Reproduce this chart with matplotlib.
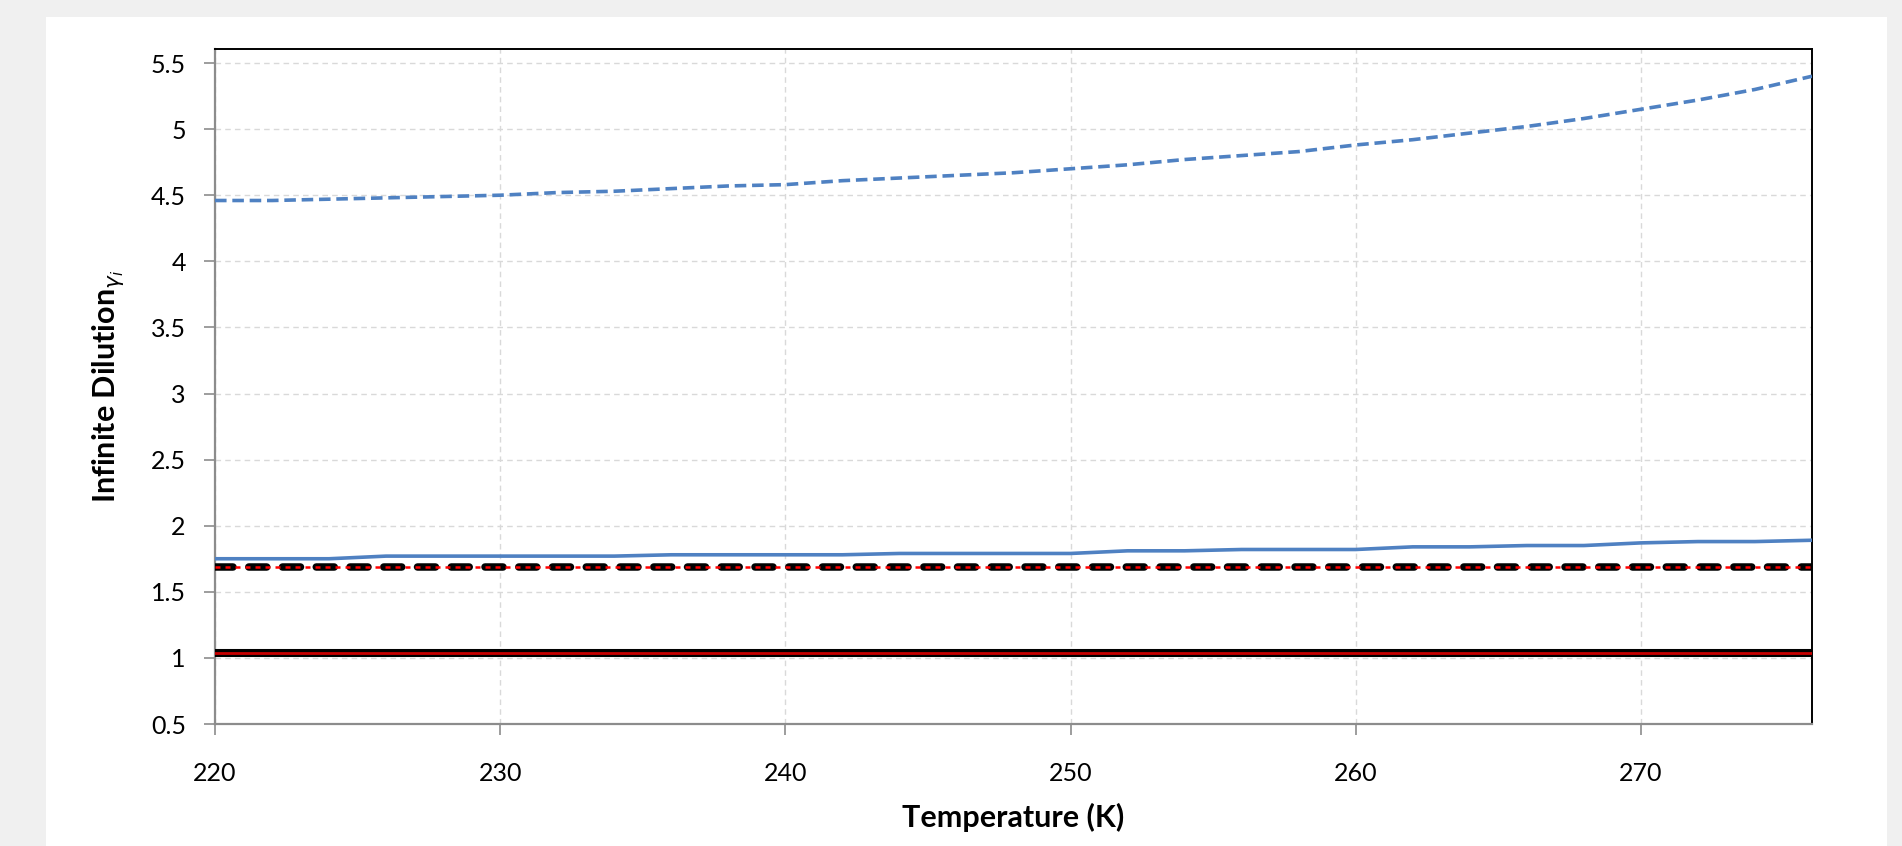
import matplotlib
matplotlib.use("Agg")
import matplotlib.pyplot as plt
from matplotlib.patches import Rectangle

# temperature grid (K)
temps = [220, 222, 224, 226, 228, 230, 232, 234, 236, 238, 240, 242, 244, 246, 248,
         250, 252, 254, 256, 258, 260, 262, 264, 266, 268, 270, 272, 274, 276]

# infinite dilution activity coefficients
gamma_dashed_blue = [4.46, 4.46, 4.47, 4.48, 4.49, 4.50, 4.52, 4.53, 4.55, 4.57, 4.58,
                     4.61, 4.63, 4.65, 4.67, 4.70, 4.73, 4.77, 4.80, 4.83, 4.88, 4.92,
                     4.97, 5.02, 5.08, 5.15, 5.22, 5.30, 5.40]
gamma_solid_blue = [1.75, 1.75, 1.75, 1.77, 1.77, 1.77, 1.77, 1.77, 1.78, 1.78, 1.78,
                    1.78, 1.79, 1.79, 1.79, 1.79, 1.81, 1.81, 1.82, 1.82, 1.82, 1.84,
                    1.84, 1.85, 1.85, 1.87, 1.88, 1.88, 1.89]
gamma_dashed_black = [1.69] * len(temps)
gamma_solid_black = [1.035] * len(temps)

xticks = [220, 230, 240, 250, 260, 270]
yticks = [0.5, 1, 1.5, 2, 2.5, 3, 3.5, 4, 4.5, 5, 5.5]
ytick_labels = ["0.5", "1", "1.5", "2", "2.5", "3", "3.5", "4", "4.5", "5", "5.5"]

plt.rcParams['font.family'] = ['Lato', 'DejaVu Sans']
plt.rcParams['mathtext.fontset'] = 'dejavusans'

fig = plt.figure(figsize=(19.02, 8.46), dpi=100, facecolor='#f0f0f0')
fig.patches.append(Rectangle((46 / 1902, 0), (1887 - 46) / 1902, 1 - 17 / 846,
                             transform=fig.transFigure, facecolor='white',
                             edgecolor='none', zorder=-5))
ax = fig.add_axes([215 / 1902, 1 - 724 / 846, (1812 - 215) / 1902, (724 - 49) / 846])
ax.set_zorder(2)

blue = '#4f81c2'
ax.plot(temps, gamma_dashed_blue, color=blue, lw=2.6, linestyle=(0, (3.2, 1.6)), zorder=3)
ax.plot(temps, gamma_solid_blue, color=blue, lw=2.6, zorder=3)
ax.plot(temps, gamma_dashed_black, color='black', lw=5.4, linestyle=(0, (2.4, 2.1)),
        dash_capstyle='round', zorder=4)
ax.plot(temps, gamma_dashed_black, color='red', lw=1.8, linestyle=(0, (2.0, 2.0)), zorder=5)
ax.plot(temps, gamma_solid_black, color='black', lw=5.8, zorder=4)
ax.plot(temps, gamma_solid_black, color='#c80000', lw=2.0, zorder=5)

ax.set_xlim(220, 276)
ax.set_ylim(0.5, 5.606)
ax.set_xticks(xticks)
ax.set_yticks(yticks)
ax.set_yticklabels(ytick_labels)

ax.grid(True, color='#d9d9d9', linestyle=(0, (4, 3)), lw=1.0)
ax.set_axisbelow(True)

for side in ['left', 'bottom']:
    ax.spines[side].set_color('#8c8c8c')
    ax.spines[side].set_linewidth(1.6)
for side in ['top', 'right']:
    ax.spines[side].set_color('black')
    ax.spines[side].set_linewidth(1.4)

ax.tick_params(axis='both', direction='out', length=8, width=1.2, color='#8c8c8c',
               labelsize=18)
ax.tick_params(axis='x', pad=19)
ax.tick_params(axis='y', pad=13)

ax.set_xlabel('Temperature (K)', fontsize=22, fontweight='bold', labelpad=13)
ax.set_ylabel(r'Infinite Dilution$_{\gamma_{i}}$', fontsize=22, fontweight='bold', labelpad=18)

fig.savefig('out.png', dpi=100, facecolor=fig.get_facecolor())
